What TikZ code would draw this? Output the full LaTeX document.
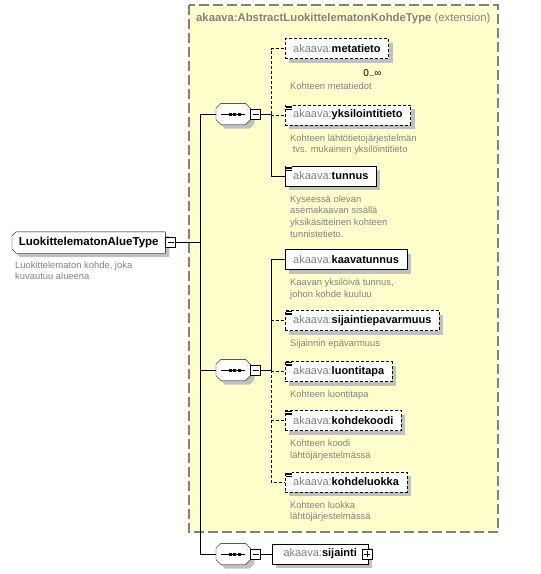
\documentclass[tikz,border=0pt]{standalone}
\usepackage{fontspec}
\setmainfont{Liberation Sans}
\usetikzlibrary{shadows, positioning, backgrounds}
\definecolor{xsdyellow}{RGB}{255,255,204}
\definecolor{xsdgray}{RGB}{128,128,128}
\definecolor{xsdshadow}{RGB}{192,192,192}

\newcommand{\xname}[1]{{\color{xsdgray}akaava:}\textbf{#1}}
\pgfdeclarelayer{frame}
\pgfsetlayers{frame,background,main}

\begin{document}
\begin{tikzpicture}[x=1pt, y=-1pt, line width=0.8pt,
        basic/.style   = {draw, fill=white, drop shadow={shadow xshift=4pt, shadow yshift=-4pt, fill=xsdshadow, opacity=1}},
        root/.style    = {minimum width=153pt, minimum height=21pt, inner sep=0pt,
                          anchor=west, font=\fontsize{11.5}{13}\selectfont},
        elem/.style    = {basic, anchor=west, minimum height=20pt, inner xsep=8pt, inner ysep=0pt,
                          font=\fontsize{11}{13}\selectfont},
        optelem/.style = {elem, dash pattern=on 3pt off 2pt},
        seq/.style     = {minimum width=34pt, minimum height=21pt, inner sep=0pt, anchor=west},
        tog/.style     = {draw, fill=white, minimum size=10pt, inner sep=0pt, line width=0.7pt,
                          path picture={\draw ([xshift=2pt]path picture bounding box.west) -- ([xshift=-2pt]path picture bounding box.east);}},
        plus/.style    = {tog, path picture={\draw ([xshift=2pt]path picture bounding box.west) -- ([xshift=-2pt]path picture bounding box.east);
                          \draw ([yshift=-2pt]path picture bounding box.north) -- ([yshift=2pt]path picture bounding box.south);}},
        desc/.style    = {anchor=north west, inner sep=0pt, align=left, text=xsdgray, font=\fontsize{9.4}{11.7}\selectfont},
        opt/.style     = {dash pattern=on 3pt off 2pt},
        shade/.style   = {fill=xsdshadow, draw=none, transform canvas={shift={(4pt,-4pt)}}},
        outline/.style = {draw, fill=white},
        ext/.style     = {draw=xsdgray, fill=xsdyellow, line width=1.3pt, dash pattern=on 10pt off 4pt}]

    \useasboundingbox (0,0) rectangle (541,574);

    % the extension frame
    \begin{pgfonlayer}{frame}
    \draw[ext] (189,5) rectangle (498,532);
    \end{pgfonlayer}
    \node[anchor=west, inner sep=0pt, text=xsdgray, font=\fontsize{11.3}{13}\selectfont] (ext)
        at (196,19) {\textbf{akaava:AbstractLuokittelematonKohdeType} (extension)};

    % root element
    \node[root] (alue) at (12,242.5) {\textbf{LuokittelematonAlueType}};
    \node[tog, right=0pt of alue] (alue-t) {};
    \node[desc] (alue-d) at ([xshift=3pt, yshift=-8pt]alue.south west) {Luokittelematon kohde, joka\\kuvautuu alueena};

    % the sequences
    \node[seq] (s1) at (216,114) {};
    \node[seq] (s2) at (216,370) {};
    \node[seq] (s3) at (216,554) {};
    \foreach \s in {s1,s2,s3} {
        \node[tog, right=0pt of \s] (\s-t) {};
        \draw ([xshift=-12pt]\s.center) -- ([xshift=12pt]\s.center);
        \foreach \d in {-4.5,0,4.5}
            \fill ([shift={(\d pt,-1.5pt)}]\s.center) rectangle ++(3pt,3pt);
    }

    % outlines of the root and the sequences
    \begin{pgfonlayer}{background}
    \foreach \o in {shade,outline}
        \path[\o] ([xshift=4pt]alue.north west) -- (alue.north east) -- (alue.south east)
            -- ([xshift=4pt]alue.south west) -- ([yshift=4pt]alue.south west)
            -- ([yshift=-4pt]alue.north west) -- cycle;
    \foreach \s in {s1,s2,s3}
        \foreach \o in {shade,outline}
            \path[\o] ([xshift=5pt]\s.north west) -- ([xshift=-5pt]\s.north east)
                -- ([yshift=-5pt]\s.north east) -- ([yshift=5pt]\s.south east)
                -- ([xshift=-5pt]\s.south east) -- ([xshift=5pt]\s.south west)
                -- ([yshift=5pt]\s.south west) -- ([yshift=-5pt]\s.north west) -- cycle;
    \end{pgfonlayer}

    % children of the first sequence
    \node[optelem] (met) at (285,48.5) {\xname{metatieto}};
    \node[anchor=east, inner sep=0pt, font=\fontsize{10}{12}\selectfont] (met-n)
        at ([xshift=-7pt, yshift=-14pt]met.south east) {0..∞};
    \node[optelem] (yks) at (285,115) {\xname{yksilointitieto}};
    \node[elem]    (tun) at (285,176) {\xname{tunnus}};

    % children of the second sequence
    \node[elem]    (kaa) at (285,259.5) {\xname{kaavatunnus}};
    \node[optelem] (sij) at (285,320.5) {\xname{sijaintiepavarmuus}};
    \node[optelem] (luo) at (285,371.5) {\xname{luontitapa}};
    \node[optelem] (kdk) at (285,420.5) {\xname{kohdekoodi}};
    \node[optelem] (kdl) at (285,482) {\xname{kohdeluokka}};

    % child of the third sequence
    \node[elem, minimum width=96pt] (sijainti) at (272,554) {\xname{sijainti}};
    \node[plus] (sijainti-t) at ([xshift=-1pt]sijainti.east) {};

    % descriptions
    \node[desc] (met-d) at ([xshift=5pt, yshift=-24pt]met.south west) {Kohteen metatiedot};
    \node[desc] (yks-d) at ([xshift=5pt, yshift=-9pt]yks.south west) {Kohteen lähtötietojärjestelmän\\~tvs. mukainen yksilöintitieto};
    \node[desc] (tun-d) at ([xshift=5pt, yshift=-9pt]tun.south west) {Kyseessä olevan\\asemakaavan sisällä\\yksikäsitteinen kohteen\\tunnistetieto.};
    \node[desc] (kaa-d) at ([xshift=5pt, yshift=-9pt]kaa.south west) {Kaavan yksilöivä tunnus,\\johon kohde kuuluu};
    \node[desc] (sij-d) at ([xshift=5pt, yshift=-9pt]sij.south west) {Sijainnin epävarmuus};
    \node[desc] (luo-d) at ([xshift=5pt, yshift=-9pt]luo.south west) {Kohteen luontitapa};
    \node[desc] (kdk-d) at ([xshift=5pt, yshift=-9pt]kdk.south west) {Kohteen koodi\\lähtöjärjestelmässä};
    \node[desc] (kdl-d) at ([xshift=5pt, yshift=-9pt]kdl.south west) {Kohteen luokka\\lähtöjärjestelmässä};

    % documentation marks on the element boxes
    \foreach \n in {yks,tun,sij,luo,kdk,kdl} {
        \fill[white] ([shift={(0.5pt,-0.5pt)}]\n.north west) rectangle ++(6.5pt,-5pt);
        \foreach \d in {1,2.5,4}
            \draw[line width=0.6pt] ([shift={(1pt,-\d pt)}]\n.north west) -- ++(5.5pt,0);
    }

    % main spine
    \coordinate (j0) at ([xshift=-16pt]s1.west);
    \draw (alue-t.east) -- (alue-t.east -| j0);
    \draw (s1.west) -- (j0) -- (j0 |- s3.west) -- (s3.west);
    \draw (s2.west -| j0) -- (s2.west);

    % lines from the first sequence
    \coordinate (j1) at ([xshift=10pt]s1-t.east);
    \draw (s1-t.east) -- (j1);
    \draw[opt] (j1) -- (j1 |- met.west) -- (met.west);
    \draw[opt] (j1 |- yks.west) -- (yks.west);
    \draw (j1) -- (j1 |- tun.west) -- (tun.west);

    % lines from the second sequence
    \coordinate (j2) at ([xshift=10pt]s2-t.east);
    \draw (s2-t.east) -- (j2);
    \draw (j2) -- (j2 |- kaa.west) -- (kaa.west);
    \draw[opt] (j2) -- (j2 |- kdl.west) -- (kdl.west);
    \foreach \n in {sij,luo,kdk}
        \draw[opt] (j2 |- \n.west) -- (\n.west);

    % line from the third sequence
    \draw (s3-t.east) -- (sijainti.west);

\end{tikzpicture}
\end{document}
